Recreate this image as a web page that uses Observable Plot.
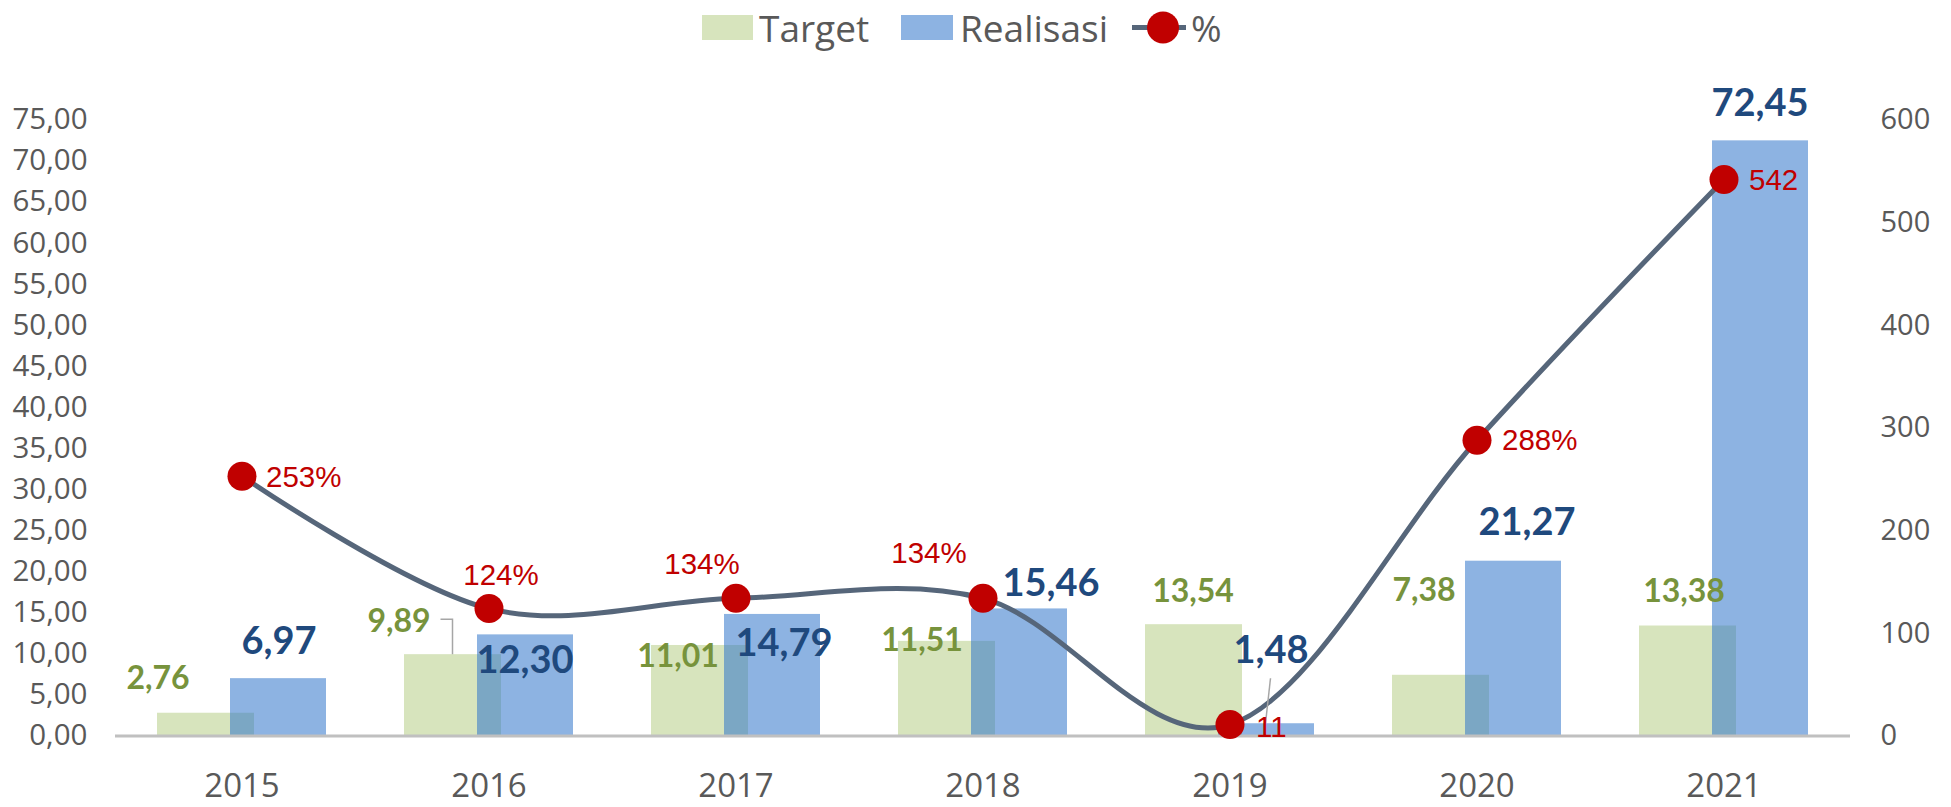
<!DOCTYPE html>
<html>
<head>
<meta charset="utf-8">
<script src="https://cdn.jsdelivr.net/npm/d3@7"></script>
<script src="https://cdn.jsdelivr.net/npm/@observablehq/plot@0.6"></script>
<style>
  body { margin: 0; background: #fff; width: 1951px; height: 807px; overflow: hidden; }
  #legend { position: relative; height: 55px; font-family: "Open Sans", sans-serif; font-size: 37px; color: #595959; }
  #legend .item { position: absolute; top: 0; height: 55px; line-height: 55px; white-space: nowrap; }
  #legend .sw { position: absolute; top: 15px; height: 25px; }
  #chart svg { display: block; overflow: visible; }
</style>
</head>
<body>
<div id="legend"></div>
<div id="chart"></div>
<script>
// ---- data ----
const years = ["2015", "2016", "2017", "2018", "2019", "2020", "2021"];
const target = [2.76, 9.89, 11.01, 11.51, 13.54, 7.38, 13.38];
const realisasi = [6.97, 12.30, 14.79, 15.46, 1.48, 21.27, 72.45];
const percent = [253, 124, 134, 134, 11, 288, 542];
const percentLabels = ["253%", "124%", "134%", "134%", "11", "288%", "542"];
const leftTicks = [0, 5, 10, 15, 20, 25, 30, 35, 40, 45, 50, 55, 60, 65, 70, 75];
const rightTicks = [0, 100, 200, 300, 400, 500, 600];
const seriesNames = ["Target", "Realisasi", "%"];

// ---- layout (label offsets in px from band centre / value position) ----
const targetLabelOffset = [[-84, -34], [-90, -33], [-58, 11], [-61, -1], [-37, -33], [-53, -85], [-40, -34]];
const realLabelOffset = [[37, -37], [36, 26], [48, 29], [68, -25], [41, -73], [50, -38], [36, -37]];
const pctLabelOffset = [[24, 1, "start"], [12, -33, "middle"], [-34, -34, "middle"], [-54, -45, "middle"], [26, 3, "start"], [25, 0, "start"], [25, 1, "start"]];
const leaderLines = [
  {year: "2016", series: "target", path: [[-48, -35], [-36, -35], [-36, 0]]},
  {year: "2019", series: "realisasi", path: [[41, -45], [36, 0]]}
];

const RATIO = 8; // right axis = left axis * 8
const C = {
  target: "#d7e4bd", real: "#3075ca", line: "#56667a", dot: "#c00000",
  tLabel: "#77933c", rLabel: "#1f497d", pLabel: "#c00000", axis: "#595959", base: "#c0c0c0"
};

const data = years.map((y, i) => ({year: y, target: target[i], realisasi: realisasi[i], pct: percent[i], pctLabel: percentLabels[i]}));
const fmt = v => v.toFixed(2).replace(".", ",");

// ---- legend ----
const legend = document.getElementById("legend");
legend.innerHTML = `
  <div class="sw" style="left:702px;width:51px;background:${C.target}"></div>
  <div class="item" style="left:759px">${seriesNames[0]}</div>
  <div class="sw" style="left:901px;width:52px;background:${C.real};opacity:0.55"></div>
  <div class="item" style="left:960px">${seriesNames[1]}</div>
  <svg style="position:absolute;left:1132px;top:10px" width="54" height="35">
    <line x1="0" x2="54" y1="17.5" y2="17.5" stroke="${C.line}" stroke-width="5"/>
    <circle cx="31" cy="17.5" r="16" fill="${C.dot}"/>
  </svg>
  <div class="item" style="left:1191px">${seriesNames[2]}</div>`;

// ---- chart ----
const marks = [
  Plot.barY(data, {x: "year", y: "target", fill: C.target, insetLeft: 39, insetRight: 111}),
  Plot.barY(data, {x: "year", y: "realisasi", fill: C.real, fillOpacity: 0.55, insetLeft: 112, insetRight: 39}),
  Plot.ruleY([0], {stroke: C.base, strokeWidth: 3}),
  Plot.axisY({anchor: "left", ticks: leftTicks, tickFormat: fmt, tickSize: 0, tickPadding: 28, fontSize: 29.5, color: C.axis, label: null}),
  Plot.axisY({anchor: "right", ticks: rightTicks.map(v => v / RATIO), tickFormat: v => String(Math.round(v * RATIO)), tickSize: 0, tickPadding: 30, fontSize: 29, color: C.axis, label: null}),
  Plot.axisX({tickSize: 0, tickPadding: 38, fontSize: 33, color: C.axis, label: null}),
  Plot.line(data, {x: "year", y: d => d.pct / RATIO, curve: "cardinal", stroke: C.line, strokeWidth: 5}),
  Plot.dot(data, {x: "year", y: d => d.pct / RATIO, r: 14.5, fill: C.dot, stroke: null}),
  // leader lines drawn with the plot's scales
  (index, scales, values, dims) => {
    const x = scales.x, y = scales.y;
    const bw = x.bandwidth ? x.bandwidth() : (dims.width - dims.marginLeft - dims.marginRight) / years.length;
    const g = d3.create("svg:g").attr("fill", "none").attr("stroke", "#a6a6a6").attr("stroke-width", 1.5);
    for (const L of leaderLines) {
      const d = data.find(r => r.year === L.year);
      const cx = x(L.year) + bw / 2, cy = y(d[L.series]);
      g.append("path").attr("d", "M" + L.path.map(([dx, dy]) => `${cx + dx},${cy + dy}`).join("L"));
    }
    return g.node();
  }
];

data.forEach((d, i) => {
  marks.push(Plot.text([d], {x: "year", y: "target", text: r => fmt(r.target), dx: targetLabelOffset[i][0], dy: targetLabelOffset[i][1],
    fill: C.tLabel, fontSize: 32, fontWeight: "bold", fontFamily: "Lato", textAnchor: "middle"}));
  marks.push(Plot.text([d], {x: "year", y: "realisasi", text: r => fmt(r.realisasi), dx: realLabelOffset[i][0], dy: realLabelOffset[i][1],
    fill: C.rLabel, fontSize: 38, fontWeight: "bold", fontFamily: "Lato", textAnchor: "middle"}));
  marks.push(Plot.text([d], {x: "year", y: r => r.pct / RATIO, text: "pctLabel", dx: pctLabelOffset[i][0], dy: pctLabelOffset[i][1],
    textAnchor: pctLabelOffset[i][2], fill: C.pLabel, fontSize: 29.5, fontFamily: "Liberation Sans"}));
});

const chart = Plot.plot({
  width: 1951,
  height: 752,
  marginTop: 64.4,
  marginBottom: 71.6,
  marginLeft: 115,
  marginRight: 101,
  style: {background: "white", fontFamily: "Open Sans", overflow: "visible"},
  x: {type: "band", domain: years, padding: 0},
  y: {domain: [0, 75]},
  marks
});
document.getElementById("chart").appendChild(chart);
</script>
</body>
</html>
